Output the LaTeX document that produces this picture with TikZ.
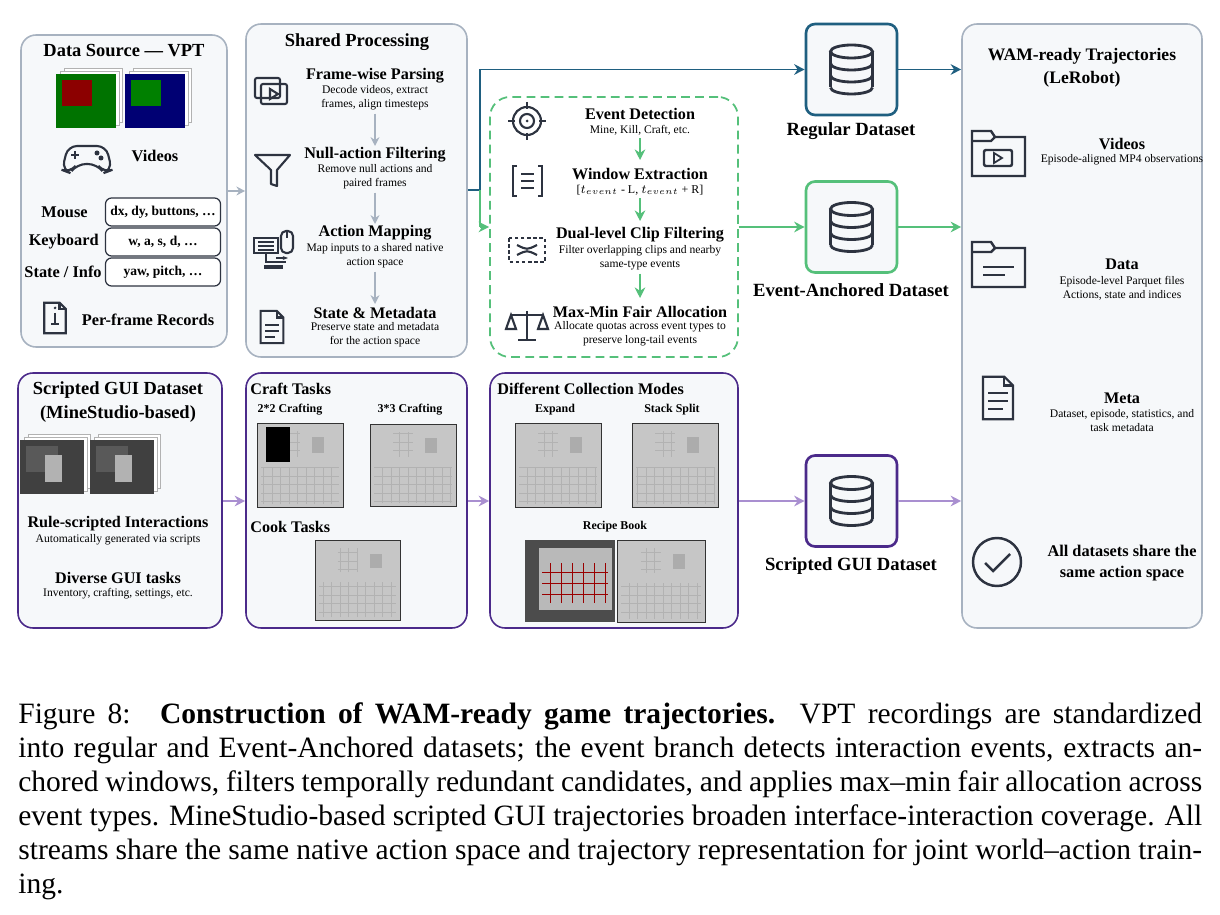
\documentclass[tikz,border=0pt]{standalone}
\usepackage{fontspec}
\setmainfont{Liberation Serif}
\usetikzlibrary{arrows.meta,fit,calc}
\definecolor{bordergray}{HTML}{A7B2C0}
\definecolor{panelfill}{HTML}{F6F8FA}
\definecolor{bluec}{HTML}{1F5F80}
\definecolor{greenc}{HTML}{55C07A}
\definecolor{purplec}{HTML}{4B2A8A}
\definecolor{lpurple}{HTML}{A98FD0}
\definecolor{navy}{HTML}{2D3340}
\definecolor{arrgray}{HTML}{A7B2C0}
\definecolor{guigray}{HTML}{C6C6C6}
\newcommand\guishot[4]{%
  \fill[guigray] (#1,#2) rectangle (#3,#4);
  \draw[gray!40!black,line width=0.5pt] (#1,#2) rectangle (#3,#4);
  \draw[gray!60,line width=0.3pt,step=0.17cm] ({#1+4},{0.52*#4+0.48*#2}) grid ({#3-4},{#4-3});
  \draw[gray!60,line width=0.3pt,step=0.17cm] ({0.5*#1+0.5*#3-20},{#2+8}) grid ({0.5*#1+0.5*#3},{0.6*#2+0.4*#4});
  \fill[gray!65] ({0.5*#1+0.5*#3+12},{#2+14}) rectangle ({0.5*#1+0.5*#3+24},{0.6*#2+0.4*#4-4});
}
\newcommand\gameshot[6]{%
  \fill[white] ({#1+8},{#2-6}) rectangle ({#3+6},{#4-6});
  \draw[gray!60] ({#1+8},{#2-6}) rectangle ({#3+6},{#4-6});
  \fill[white] ({#1+4},{#2-3}) rectangle ({#3+3},{#4-3});
  \draw[gray!60] ({#1+4},{#2-3}) rectangle ({#3+3},{#4-3});
  \fill[#5] (#1,#2) rectangle (#3,#4);
  \fill[#6] ({#1+6},{#2+6}) rectangle ({0.4*#1+0.6*#3},{0.4*#2+0.6*#4});
}
\newcommand\dbicon[2]{%
  \begin{scope}[shift={(#1,#2)},navy,line width=1.6pt]
    \draw (0,-18) ellipse [x radius=0.42cm,y radius=0.13cm];
    \draw (-21,-18) -- (-21,18) (21,-18) -- (21,18);
    \draw (-21,-6) arc[start angle=180,end angle=360,x radius=0.42cm,y radius=0.13cm];
    \draw (-21,6) arc[start angle=180,end angle=360,x radius=0.42cm,y radius=0.13cm];
    \draw (-21,18) arc[start angle=180,end angle=360,x radius=0.42cm,y radius=0.13cm];
  \end{scope}}
\newcommand\docicon[3]{% x y scale
  \begin{scope}[shift={(#1,#2)},navy,line width=1.2pt,scale=#3]
    \draw (-12,-17) -- (5,-17) -- (12,-10) -- (12,17) -- (-12,17) -- cycle;
    \draw (5,-17) -- (5,-10) -- (12,-10);
  \end{scope}}
\tikzset{
  panel/.style={draw=bordergray,fill=panelfill,rounded corners=0.3cm,line width=0.9pt,inner sep=0},
  ttl/.style={font=\fontsize{10.5}{12.5}\selectfont\bfseries,align=center,inner sep=0},
  itm/.style={font=\fontsize{9.2}{10}\selectfont\bfseries,align=center,inner sep=0},
  sub/.style={font=\fontsize{6.6}{8}\selectfont,align=center,inner sep=0},
  lbl/.style={font=\fontsize{9.3}{10}\selectfont\bfseries,align=center,inner sep=0},
  dsl/.style={font=\fontsize{10.6}{12}\selectfont\bfseries,align=center,inner sep=0},
  val/.style={draw=navy,fill=white,rounded corners=0.12cm,line width=0.7pt,minimum width=2.3cm,minimum height=0.56cm,font=\fontsize{7.7}{8}\selectfont\bfseries,inner sep=0},
  tiny/.style={font=\fontsize{6.8}{7}\selectfont\bfseries,inner sep=0},
  garr/.style={arrgray,line width=1pt,-{Stealth[length=5pt,width=5pt]}},
  barr/.style={bluec,line width=1pt,-{Stealth[length=6pt,width=6pt]}},
  grarr/.style={greenc,line width=1pt,-{Stealth[length=6pt,width=6pt]}},
  parr/.style={lpurple,line width=1pt,-{Stealth[length=6pt,width=6pt]}},
  ico/.style={navy,line width=1.2pt},
}
\begin{document}
\begin{tikzpicture}[x={(0.02cm,0)},y={(0,-0.02cm)}]
\useasboundingbox[fill=white] (0,0) rectangle (1220,915);
% ---------- panels ----------
\coordinate (a1) at (21,35); \coordinate (a2) at (227,347);
\node[panel,fit=(a1)(a2)] (ds) {};
\coordinate (b1) at (246,24); \coordinate (b2) at (467,357);
\node[panel,fit=(b1)(b2)] (sp) {};
\coordinate (c1) at (490,97); \coordinate (c2) at (738,357);
\node[draw=greenc,dashed,dash pattern=on 5pt off 3pt,line width=1pt,rounded corners=0.4cm,fit=(c1)(c2),inner sep=0] (ev) {};
\coordinate (d1) at (962,24); \coordinate (d2) at (1202,628);
\node[panel,fit=(d1)(d2)] (wam) {};
\coordinate (e1) at (18,373); \coordinate (e2) at (222,628);
\node[panel,draw=purplec,fit=(e1)(e2)] (sgd) {};
\coordinate (f1) at (246,373); \coordinate (f2) at (467,628);
\node[panel,draw=purplec,fit=(f1)(f2)] (ct) {};
\coordinate (g1) at (490,373); \coordinate (g2) at (738,628);
\node[panel,draw=purplec,fit=(g1)(g2)] (cm) {};
% dataset boxes
\node[panel,draw=bluec,line width=1.5pt,rounded corners=0.18cm,minimum width=1.82cm,minimum height=1.82cm] (reg) at (851.5,69.5) {};
\node[panel,draw=greenc,line width=1.5pt,rounded corners=0.18cm,minimum width=1.82cm,minimum height=1.82cm] (evd) at (851.5,227) {};
\node[panel,draw=purplec,line width=1.5pt,rounded corners=0.18cm,minimum width=1.82cm,minimum height=1.82cm] (sgb) at (851.5,501) {};
\dbicon{851.5}{69.5}\dbicon{851.5}{227}\dbicon{851.5}{501}
\node[dsl] (regl) at (851,131) {Regular Dataset};
\node[dsl] (evdl) at (851,290) {Event-Anchored Dataset};
\node[dsl] (sgbl) at (851,566) {Scripted GUI Dataset};
% ---------- Data source ----------
\node[ttl] (dst) at (124,51) {Data Source — VPT};
\gameshot{56}{74}{116}{128}{green!45!black}{red!55!black}
\gameshot{125}{74}{185}{128}{blue!45!black}{green!50!black}
\begin{scope}[ico]
  \draw[rounded corners=0.18cm] (68,146) -- (106,146) -- (112,170) -- (104,173) -- (97,164) -- (77,164) -- (70,173) -- (62,170) -- cycle;
  \draw (71,155) -- (79,155) (75,151) -- (75,159);
  \fill[navy] (97,153) circle (0.05cm) (101,158) circle (0.05cm);
\end{scope}
\node[lbl] (vid) at (155,156) {Videos};
\node[lbl,anchor=east] (ms) at (88,212) {Mouse};
\node[lbl,anchor=east] (kb) at (99,242) {Keyboard};
\node[lbl,anchor=east] (st) at (102,272) {State / Info};
\node[val] (msv) at (163,212) {dx, dy, buttons, …};
\node[val] (kbv) at (163,242) {w, a, s, d, …};
\node[val] (stv) at (163,272) {yaw, pitch, …};
\docicon{55}{318}{0.9}
\draw[ico] (55,313) -- (55,324) (51,324) -- (59,324); \fill[navy] (55,308) circle (0.03cm);
\node[lbl] (pfr) at (148,320) {Per-frame Records};
% ---------- Shared processing ----------
\node[ttl] (spt) at (357,42) {Shared Processing};
\node[itm] (p1) at (375,76) {Frame-wise Parsing};
\node[sub] (p1s) at (375,98) {Decode videos, extract\\frames, align timesteps};
\node[itm] (p2) at (375,155) {Null-action Filtering};
\node[sub] (p2s) at (375,177) {Remove null actions and\\paired frames};
\node[itm] (p3) at (375,233) {Action Mapping};
\node[sub] (p3s) at (375,256) {Map inputs to a shared native\\action space};
\node[itm] (p4) at (375,313) {State \& Metadata};
\node[sub] (p4s) at (375,335) {Preserve state and metadata\\for the action space};
\draw[garr] (p1s.south) ++(0,3) -- (p2.north |- 0,146);
\draw[garr] (p2s.south) ++(0,3) -- (p3.north |- 0,224);
\draw[garr] (p3s.south) ++(0,3) -- (p4.north |- 0,304);
\begin{scope}[ico]
  \draw[rounded corners=0.04cm] (255,78) rectangle (280,98);
  \draw[rounded corners=0.04cm] (261,84) rectangle (287,104);
  \draw (270,89) -- (278,94) -- (270,99) -- cycle;
  \draw[line join=round] (255,155) -- (290,155) -- (277,170) -- (277,186) -- (271,184) -- (271,170) -- cycle;
  \draw (254,238) rectangle (278,253); \foreach \yy in {242,246,250} \draw[line width=0.8pt] (258,\yy) -- (274,\yy);
  \draw[rounded corners=0.1cm] (281,231) rectangle (293,253); \draw (287,231) -- (287,238);
  \draw (266,253) -- (266,262) -- (286,262); \draw[line width=2pt] (264,267) -- (283,267);
  \draw[-{Stealth[length=3pt]}] (276,258) -- (288,258);
\end{scope}
\docicon{272}{327}{0.95}
\draw[ico,line width=0.9pt] (265,325) -- (279,325) (265,331) -- (279,331) (265,337) -- (275,337);
% ---------- Event branch ----------
\node[itm] (e1t) at (640,114) {Event Detection};
\node[sub] (e1s) at (640,130) {Mine, Kill, Craft, etc.};
\node[itm] (e2t) at (640,174) {Window Extraction};
\node[sub,font=\fontsize{6.8}{8}\selectfont] (e2s) at (640,190) {[$t_{event}$ - L, $t_{event}$ + R]};
\node[itm] (e3t) at (640,235) {Dual-level Clip Filtering};
\node[sub] (e3s) at (640,258) {Filter overlapping clips and nearby\\same-type events};
\node[itm] (e4t) at (640,312) {Max-Min Fair Allocation};
\node[sub] (e4s) at (640,334) {Allocate quotas across event types to\\preserve long-tail events};
\draw[grarr] (e1s.south) ++(0,3) -- (640,160);
\draw[grarr] (e2s.south) ++(0,3) -- (640,221);
\draw[grarr] (e3s.south) ++(0,3) -- (640,298);
\begin{scope}[ico]
  \draw (527,121) circle (0.28cm); \draw (527,121) circle (0.14cm); \fill[navy] (527,121) circle (0.03cm);
  \draw (527,102) -- (527,109) (527,133) -- (527,140) (508,121) -- (515,121) (539,121) -- (546,121);
  \draw (517,166) -- (513,166) -- (513,196) -- (517,196);
  \draw (538,166) -- (542,166) -- (542,196) -- (538,196);
  \draw (521,174) -- (534,174) (521,181) -- (534,181) (521,188) -- (534,188);
  \draw[dash pattern=on 2pt off 1.5pt,line width=1.3pt] (509,238) rectangle (545,262);
  \draw (517,245) .. controls (527,250) .. (537,245) (517,255) .. controls (527,250) .. (537,255);
  \draw (527,311) -- (527,340) (518,340) -- (536,340) (511,315) -- (543,315);
  \draw (511,315) -- (506,329) -- (516,329) -- cycle (543,315) -- (538,329) -- (548,329) -- cycle;
\end{scope}
% ---------- WAM ----------
\node[ttl,font=\fontsize{10}{13}\selectfont\bfseries] (wt) at (1082,68) {WAM-ready Trajectories\\(LeRobot)};
\node[itm] (w1) at (1122,144) {Videos};
\node[sub] (w1s) at (1122,160) {Episode-aligned MP4 observations};
\node[itm] (w2) at (1122,264) {Data};
\node[sub] (w2s) at (1122,288) {Episode-level Parquet files\\Actions, state and indices};
\node[itm] (w3) at (1122,398) {Meta};
\node[sub] (w3s) at (1122,421) {Dataset, episode, statistics, and\\task metadata};
\node[itm,font=\fontsize{9.3}{11.5}\selectfont\bfseries] (w4) at (1122,563) {All datasets share the\\same action space};
\begin{scope}[ico,line width=1.4pt]
  \draw (972,176) -- (972,131) -- (991,131) -- (995,137) -- (1025,137) -- (1025,176) -- cycle;
  \draw (972,141) -- (991,141) -- (995,137);
  \draw[rounded corners=0.04cm] (984,150) rectangle (1012,166);
  \draw[line width=1pt] (994,153) -- (1002,158) -- (994,163) -- cycle;
  \draw (972,287) -- (972,242) -- (991,242) -- (995,248) -- (1025,248) -- (1025,287) -- cycle;
  \draw (972,252) -- (991,252) -- (995,248);
  \draw (983,267) -- (1014,267) (983,275) -- (1005,275);
\end{scope}
\docicon{998}{398}{1.25}
\draw[ico,line width=1.2pt] (988,393) -- (1008,393) (988,401) -- (1008,401) (988,409) -- (1003,409);
\draw[ico,line width=1.4pt] (997,562) circle (0.48cm);
\draw[ico,line width=1.4pt] (985,563) -- (993,571) -- (1010,554);
% ---------- Scripted GUI ----------
\node[ttl,font=\fontsize{10.5}{13.5}\selectfont\bfseries] (sgt) at (118,402) {Scripted GUI Dataset\\(MineStudio-based)};
\gameshot{20}{440}{84}{494}{black!75}{black!65}
\gameshot{90}{440}{154}{494}{black!75}{black!65}
\fill[gray!60] (45,455) rectangle (62,482); \fill[gray!60] (115,455) rectangle (132,482);
\node[itm] (rsi) at (118,524) {Rule-scripted Interactions};
\node[sub] (rsis) at (118,540) {Automatically generated via scripts};
\node[itm] (dgt) at (118,578) {Diverse GUI tasks};
\node[sub] (dgts) at (118,594) {Inventory, crafting, settings, etc.};
% ---------- Craft / Cook ----------
\node[itm,anchor=west] (ctt) at (250,389) {Craft Tasks};
\node[tiny] (c22) at (290,410) {2*2 Crafting};
\node[tiny] (c33) at (410,410) {3*3 Crafting};
\guishot{257}{423}{343}{507}
\fill[black] (266,427) rectangle (290,462);
\guishot{370}{424}{456}{506}
\node[itm,anchor=west] (ckt) at (250,527) {Cook Tasks};
\guishot{315}{540}{400}{620}
% ---------- Collection modes ----------
\node[itm,anchor=west] (cmt) at (497,389) {Different Collection Modes};
\node[tiny] (exp) at (555,410) {Expand};
\node[tiny] (sts) at (672,410) {Stack Split};
\guishot{515}{423}{601}{507}
\guishot{632}{423}{718}{507}
\node[tiny] (rb) at (615,527) {Recipe Book};
\fill[black!70] (525,540) rectangle (615,622);
\fill[gray!55] (539,548) rectangle (612,610);
\draw[red!60!black,line width=0.4pt,step=0.22cm] (542,563) grid (608,603);
\guishot{617}{540}{705}{622}
% ---------- connectors ----------
\draw[garr] (ds.east) -- (ds.east -| sp.west);
\coordinate (jn) at (480,190);
\coordinate (jg) at (480,227);
\draw[bluec,line width=1pt] (sp.east |- jn) -- (jn);
\draw[barr] (jn) |- (reg.west);
\draw[barr] (reg.east) -- (reg.east -| wam.west);
\draw[greenc,line width=1pt] (jn) -- (jg);
\draw[grarr] (jg) -- (ev.west |- jg);
\draw[grarr] (ev.east |- evd.west) -- (evd.west);
\draw[grarr] (evd.east) -- (evd.east -| wam.west);
\draw[parr] (sgd.east |- sgb.west) -- (ct.west |- sgb.west);
\draw[parr] (ct.east |- sgb.west) -- (cm.west |- sgb.west);
\draw[parr] (cm.east |- sgb.west) -- (sgb.west);
\draw[parr] (sgb.east) -- (sgb.east -| wam.west);
% ---------- caption ----------
\node[anchor=north west,inner sep=0,text width=23.68cm,align=justify,font=\fontsize{16.8}{19.4}\selectfont] (cap) at (18,702) {Figure 8:\quad\textbf{Construction of WAM-ready game trajectories.}\ \ VPT recordings are standardized\linebreak into regular and Event-Anchored datasets; the event branch detects interaction events, extracts an-\linebreak chored windows, filters temporally redundant candidates, and applies max–min fair allocation across\linebreak event types. MineStudio-based scripted GUI trajectories broaden interface-interaction coverage. All\linebreak streams share the same native action space and trajectory representation for joint world–action train-\linebreak ing.};
\end{tikzpicture}
\end{document}
